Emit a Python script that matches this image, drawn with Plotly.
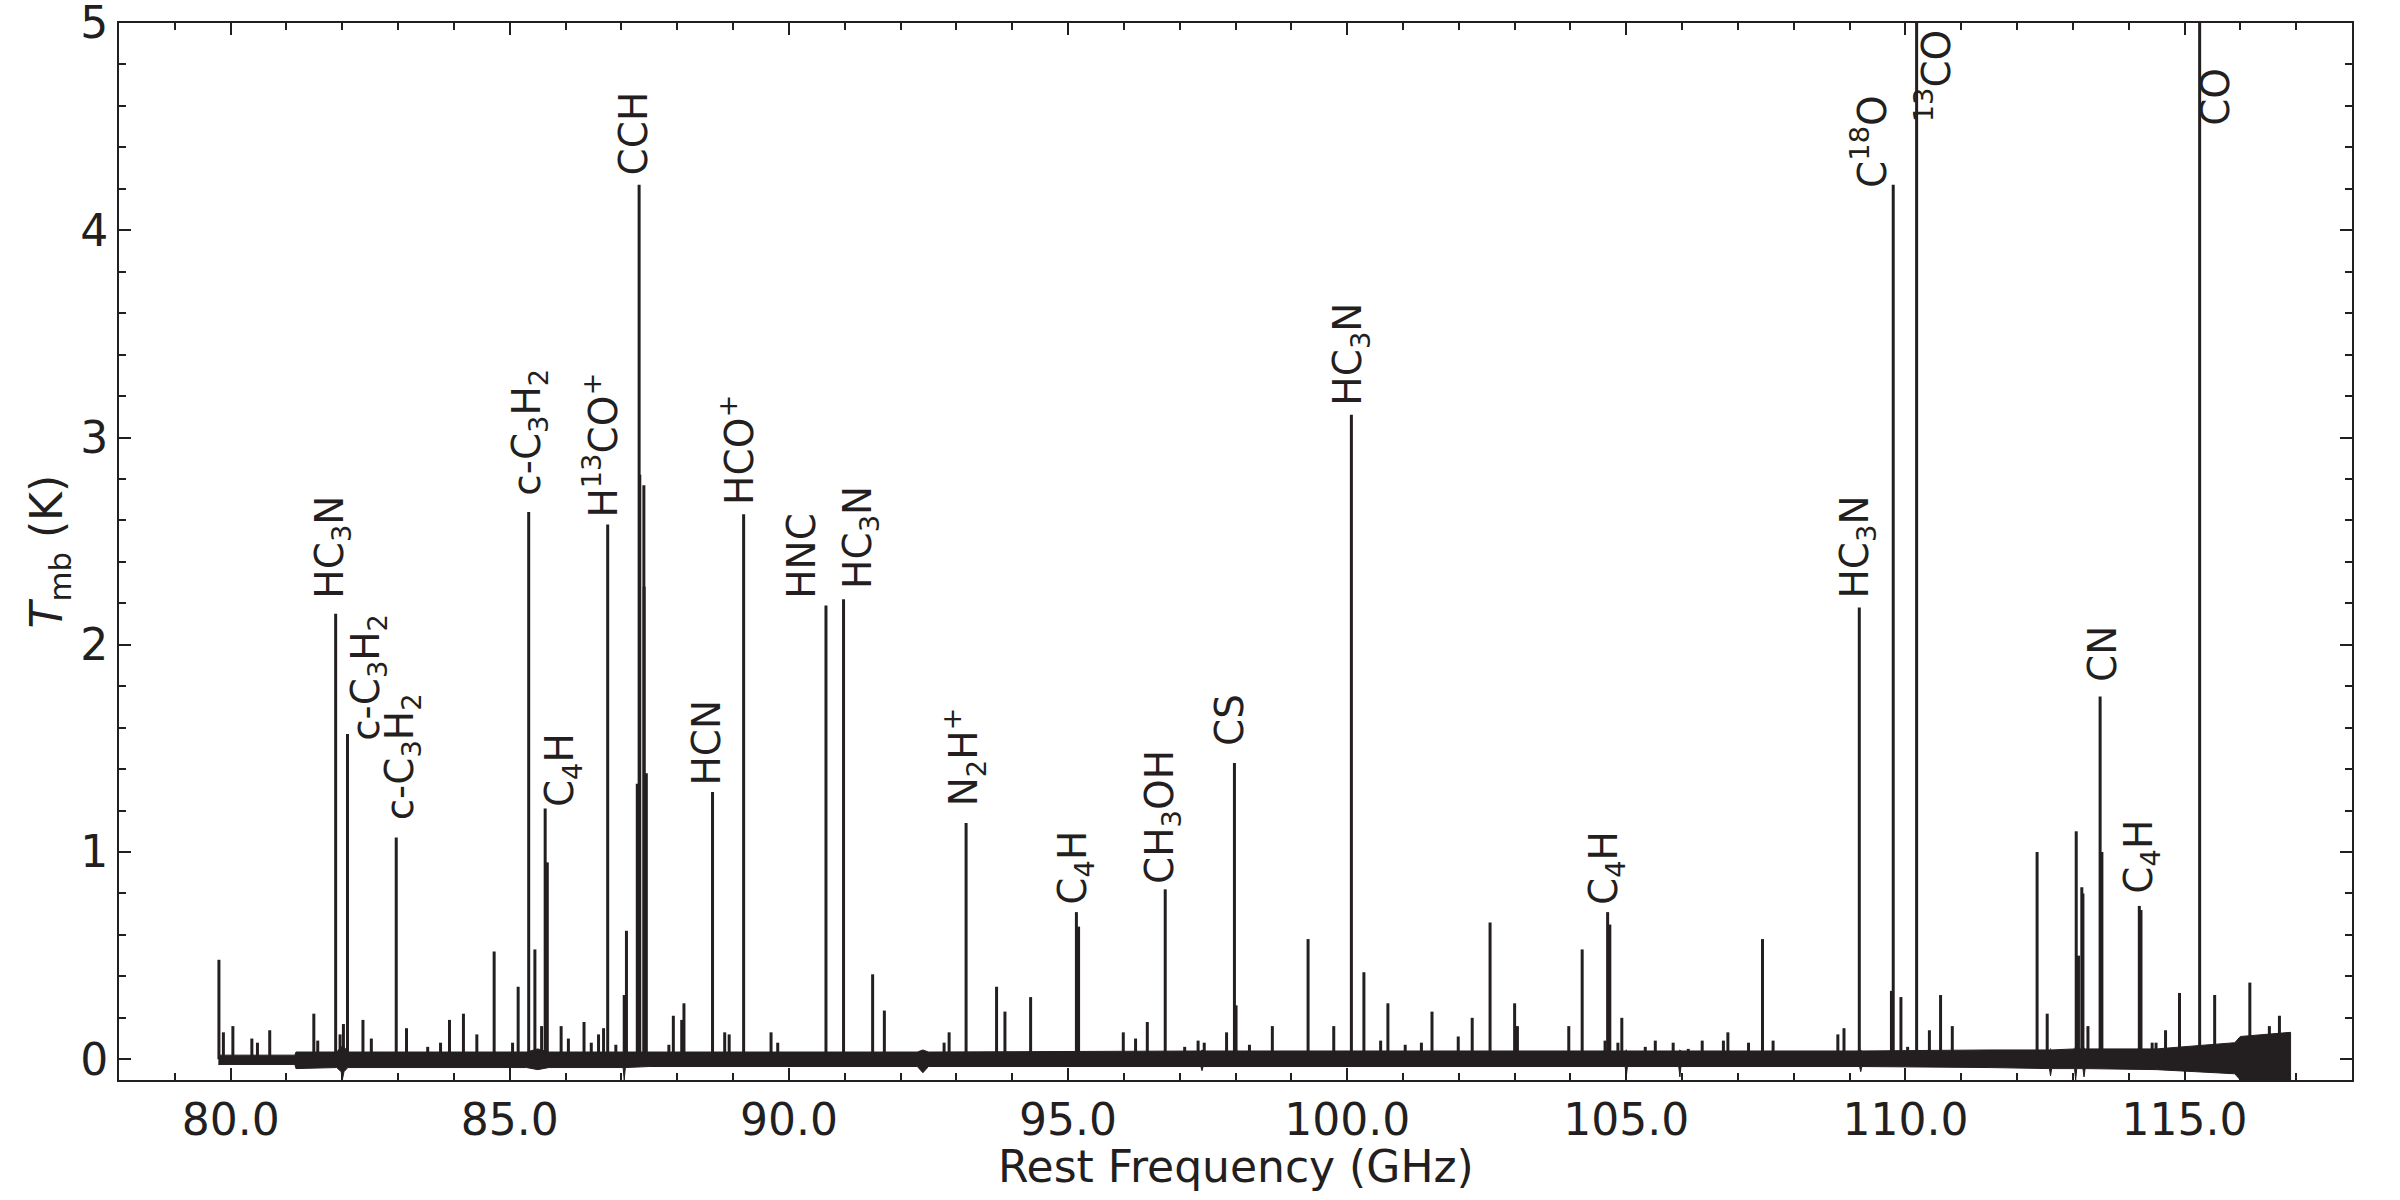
import plotly.graph_objects as go

# ---------------- data ----------------
# emission line frequencies (GHz) and peak main-beam temperatures (K)
line_freq = [79.79, 79.87, 80.04, 80.38, 80.48, 80.70, 81.49, 81.56, 81.881, 81.96,
             82.02, 82.093, 82.37, 82.52, 82.966, 83.15, 83.53, 83.76, 83.92, 84.17,
             84.41, 84.72, 85.05, 85.15, 85.339, 85.45, 85.57, 85.634, 85.672, 85.92,
             86.05, 86.33, 86.46, 86.59, 86.68, 86.754, 86.90, 87.05, 87.09,
             87.284, 87.317, 87.329, 87.402, 87.407, 87.446,
             87.85, 87.93, 88.08, 88.12, 88.632, 88.85, 88.93, 89.189, 89.68, 89.80,
             90.664, 90.979, 91.50, 91.71, 92.78, 92.87, 93.174, 93.72, 93.87, 94.33,
             95.150, 95.189, 95.99, 96.21, 96.42, 96.741, 97.09, 97.33, 97.44, 97.84,
             97.981, 98.01, 98.25, 98.66, 99.30, 99.76, 100.076, 100.30, 100.60, 100.73,
             101.04, 101.33, 101.52, 101.99, 102.24, 102.56, 103.00, 103.05, 103.97, 104.21,
             104.62, 104.666, 104.705, 104.85, 104.92, 105.34, 105.52, 105.84, 106.11, 106.36,
             106.74, 106.82, 107.19, 107.44, 107.63, 108.79, 108.90, 109.174, 109.75, 109.782,
             109.92, 110.04, 110.201, 110.43, 110.63, 110.84, 112.359, 112.54,
             113.06, 113.10, 113.16, 113.18, 113.27, 113.488, 113.50, 113.52,
             114.19, 114.22, 114.42, 114.49, 114.66, 114.91, 115.271, 115.54,
             116.17, 116.52, 116.70]
line_peak = [0.48, 0.13, 0.16, 0.10, 0.08, 0.14, 0.22, 0.09, 2.15, 0.12,
             0.17, 1.57, 0.19, 0.10, 1.07, 0.15, 0.06, 0.08, 0.19, 0.22,
             0.12, 0.52, 0.08, 0.35, 2.64, 0.53, 0.16, 1.21, 0.95, 0.16,
             0.10, 0.18, 0.08, 0.12, 0.15, 2.58, 0.07, 0.31, 0.62,
             1.33, 4.22, 2.82, 2.77, 2.28, 1.38,
             0.07, 0.21, 0.19, 0.27, 1.29, 0.13, 0.12, 2.63, 0.13, 0.08,
             2.19, 2.22, 0.41, 0.235, 0.08, 0.13, 1.14, 0.35, 0.23, 0.30,
             0.71, 0.64, 0.13, 0.10, 0.18, 0.82, 0.06, 0.09, 0.08, 0.13,
             1.43, 0.26, 0.07, 0.16, 0.58, 0.16, 3.11, 0.42, 0.09, 0.27,
             0.07, 0.08, 0.23, 0.11, 0.20, 0.66, 0.27, 0.16, 0.16, 0.53,
             0.09, 0.71, 0.65, 0.08, 0.20, 0.06, 0.09, 0.08, 0.05, 0.09,
             0.09, 0.13, 0.08, 0.58, 0.09, 0.12, 0.15, 2.18, 0.33, 4.22,
             0.30, 0.06, 5.50, 0.14, 0.31, 0.16, 1.00, 0.22,
             1.10, 0.50, 0.83, 0.80, 0.16, 1.75, 0.90, 1.00,
             0.74, 0.72, 0.08, 0.08, 0.14, 0.32, 5.50, 0.31,
             0.37, 0.16, 0.21]

# baseline noise envelope (upper / lower edge of the noise band, K)
env_freq = [79.78, 81.15, 81.17, 81.90, 81.98, 82.00, 82.03, 82.10, 85.30, 85.50,
            85.70, 87.03, 87.05, 87.07, 87.50, 92.30, 92.40, 92.50, 97.38, 97.40,
            97.42, 104.98, 105.00, 105.02, 105.94, 105.96, 105.98, 109.18, 109.20, 109.22,
            111.50, 112.58, 112.60, 112.62, 113.03, 113.05, 113.07, 113.18, 113.20, 113.22,
            114.50, 115.00, 115.90, 116.00, 116.50, 116.90]
env_hi = [0.020, 0.020, 0.035, 0.035, 0.060, 0.060, 0.060, 0.035, 0.035, 0.050,
          0.035, 0.035, 0.040, 0.035, 0.035, 0.035, 0.045, 0.035, 0.040, 0.045,
          0.040, 0.040, 0.045, 0.040, 0.040, 0.045, 0.040, 0.040, 0.045, 0.040,
          0.045, 0.045, 0.050, 0.045, 0.050, 0.060, 0.050, 0.050, 0.055, 0.050,
          0.050, 0.060, 0.080, 0.110, 0.120, 0.130]
env_lo = [-0.025, -0.025, -0.045, -0.040, -0.060, -0.100, -0.060, -0.040, -0.040, -0.050,
          -0.040, -0.040, -0.100, -0.040, -0.035, -0.035, -0.065, -0.035, -0.035, -0.055,
          -0.035, -0.035, -0.085, -0.035, -0.035, -0.085, -0.035, -0.035, -0.060, -0.035,
          -0.040, -0.045, -0.080, -0.045, -0.045, -0.100, -0.045, -0.045, -0.085, -0.045,
          -0.050, -0.055, -0.070, -0.100, -0.100, -0.100]

# molecule labels
label_text = ["HC<sub>3</sub>N", "c-C<sub>3</sub>H<sub>2</sub>", "c-C<sub>3</sub>H<sub>2</sub>",
              "c-C<sub>3</sub>H<sub>2</sub>", "C<sub>4</sub>H", "H<sup>13</sup>CO<sup>+</sup>",
              "CCH", "HCN", "HCO<sup>+</sup>", "HNC", "HC<sub>3</sub>N", "N<sub>2</sub>H<sup>+</sup>",
              "C<sub>4</sub>H", "CH<sub>3</sub>OH", "CS", "HC<sub>3</sub>N", "C<sub>4</sub>H",
              "HC<sub>3</sub>N", "C<sup>18</sup>O", "<sup>13</sup>CO", "CN", "C<sub>4</sub>H", "CO"]
label_x = [81.815, 82.46, 83.06, 85.34, 85.94, 86.63, 87.21, 88.52, 89.07, 90.22,
           91.27, 93.14, 95.12, 96.68, 97.88, 100.06, 104.64, 109.14, 109.36, 110.49,
           113.54, 114.22, 115.55]
label_y = [2.22, 1.534, 1.148, 2.716, 1.213, 2.61, 4.26, 1.317, 2.67, 2.218,
           2.266, 1.214, 0.74, 0.84, 1.506, 3.149, 0.74, 2.218, 4.20, 4.517,
           1.816, 0.794, 4.50]

x_tick_vals = [80, 85, 90, 95, 100, 105, 110, 115]
x_tick_text = ["80.0", "85.0", "90.0", "95.0", "100.0", "105.0", "110.0", "115.0"]
y_tick_vals = [0, 1, 2, 3, 4, 5]

x_title = "Rest Frequency (GHz)"
y_title = "<i>T</i><sub>mb</sub> (K)"

# ---------------- figure ----------------
INK = "#231f20"
FONT = "DejaVu Sans"
W, H = 2400, 1200
ML, MR, MT, MB = 119, 48, 23, 120
PW, PH = W - ML - MR, H - MT - MB

fig = go.Figure()

# noise band
fig.add_trace(go.Scatter(
    x=env_freq + env_freq[::-1],
    y=env_hi + env_lo[::-1],
    fill="toself", fillcolor=INK, mode="lines",
    line=dict(color=INK, width=1), hoverinfo="skip", showlegend=False))

# emission lines
xs, ys = [], []
for f, h in zip(line_freq, line_peak):
    xs += [f, f, None]
    ys += [0, h, None]
fig.add_trace(go.Scatter(x=xs, y=ys, mode="lines",
                         line=dict(color=INK, width=3),
                         hoverinfo="skip", showlegend=False))

for t, lx, ly in zip(label_text, label_x, label_y):
    fig.add_annotation(x=lx, y=ly, text=t, textangle=-90, showarrow=False,
                       xanchor="center", yanchor="bottom",
                       font=dict(family=FONT, size=39, color=INK),
                       borderpad=0)

# axis titles (placed in paper coordinates)
fig.add_annotation(xref="paper", yref="paper", x=0.5, y=-(1166 - (H - MB)) / PH,
                   text=x_title, showarrow=False, xanchor="center", yanchor="middle",
                   font=dict(family=FONT, size=44, color=INK))
fig.add_annotation(xref="paper", yref="paper", x=(49 - ML) / PW, y=0.5,
                   text=y_title, textangle=-90, showarrow=False,
                   xanchor="center", yanchor="middle",
                   font=dict(family=FONT, size=44, color=INK))

axis_common = dict(showline=True, linewidth=2, linecolor=INK, mirror="allticks",
                   ticks="inside", ticklen=12, tickwidth=2, tickcolor=INK,
                   showgrid=False, zeroline=False, ticklabeloverflow="allow",
                   automargin=False,
                   tickfont=dict(family=FONT, size=44, color=INK))

fig.update_xaxes(range=[78, 118], tickmode="array", tickvals=x_tick_vals,
                 ticktext=x_tick_text,
                 minor=dict(tick0=80, dtick=1, ticks="inside", ticklen=7,
                            tickwidth=2, tickcolor=INK),
                 **axis_common)
fig.update_yaxes(range=[-0.1, 5.0], tickmode="array", tickvals=y_tick_vals,
                 minor=dict(tick0=0, dtick=0.2, ticks="inside", ticklen=7,
                            tickwidth=2, tickcolor=INK),
                 **axis_common)

fig.update_layout(width=W, height=H,
                  margin=dict(l=ML, r=MR, t=MT, b=MB),
                  paper_bgcolor="white", plot_bgcolor="white",
                  font=dict(family=FONT, color=INK))

fig.write_html("out.html")
